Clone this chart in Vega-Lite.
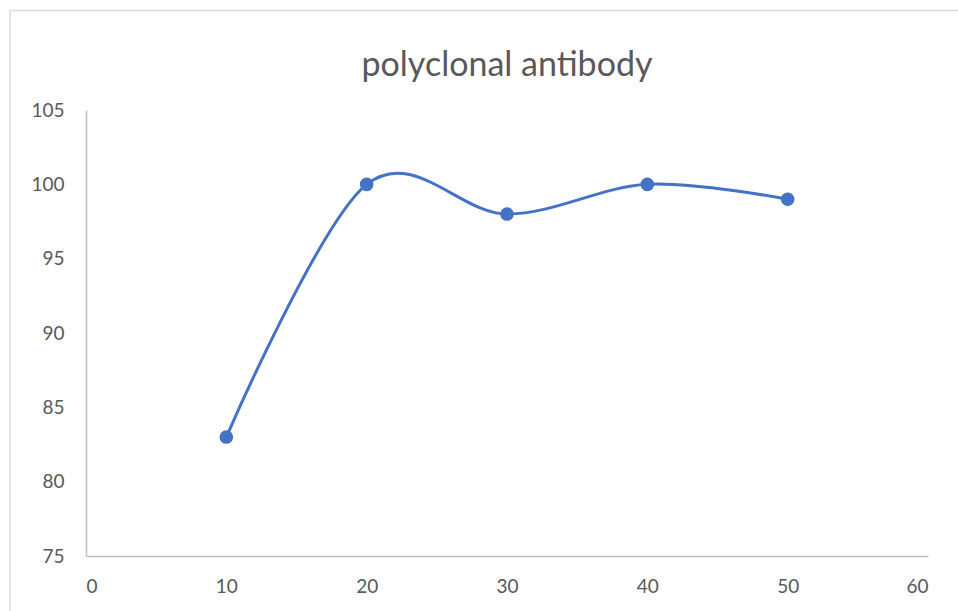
{
  "$schema": "https://vega.github.io/schema/vega-lite/v6.json",
  "width": 842,
  "height": 446,
  "autosize": {"type": "none"},
  "padding": {"left": 86, "top": 110, "right": 30, "bottom": 55},
  "background": "white",
  "config": {
    "view": {"stroke": null},
    "font": "Lato",
    "axis": {"grid": false, "ticks": false, "domainColor": "#BFBFBF", "domainWidth": 1.5, "labelColor": "#595959", "labelFont": "Lato", "labelFontSize": 19}
  },
  "title": {"text": "polyclonal antibody", "fontSize": 34, "font": "Lato", "fontWeight": "normal", "color": "#595959", "anchor": "middle", "frame": "group", "offset": -73},
  "data": {"values": [
    {"x": 10, "y": 83},
    {"x": 20, "y": 100},
    {"x": 30, "y": 98},
    {"x": 40, "y": 100},
    {"x": 50, "y": 99}
  ]},
  "layer": [
    {
      "data": {"values": [{"x1": -5.42, "x2": 63, "y1": 111.7, "y2": 70}]},
      "mark": {"type": "rect", "fill": null, "stroke": "#D9D9D9", "strokeWidth": 1.5, "clip": false},
      "encoding": {
        "x": {"field": "x1", "type": "quantitative", "scale": {"domain": [0, 60]}},
        "x2": {"field": "x2"},
        "y": {"field": "y1", "type": "quantitative", "scale": {"domain": [75, 105]}},
        "y2": {"field": "y2"}
      }
    },
    {
      "mark": {"type": "line", "interpolate": "cardinal", "tension": 0, "color": "#4472C4", "strokeWidth": 3},
      "encoding": {
        "x": {"field": "x", "type": "quantitative", "scale": {"domain": [0, 60], "nice": false}, "axis": {"title": null, "values": [0,10,20,30,40,50,60], "labelPadding": 21}},
        "y": {"field": "y", "type": "quantitative", "scale": {"domain": [75, 105], "nice": false, "zero": false}, "axis": {"title": null, "values": [75,80,85,90,95,100,105], "labelPadding": 22}}
      }
    },
    {
      "mark": {"type": "point", "filled": true, "color": "#4472C4", "size": 185, "opacity": 1},
      "encoding": {
        "x": {"field": "x", "type": "quantitative"},
        "y": {"field": "y", "type": "quantitative"}
      }
    }
  ]
}
